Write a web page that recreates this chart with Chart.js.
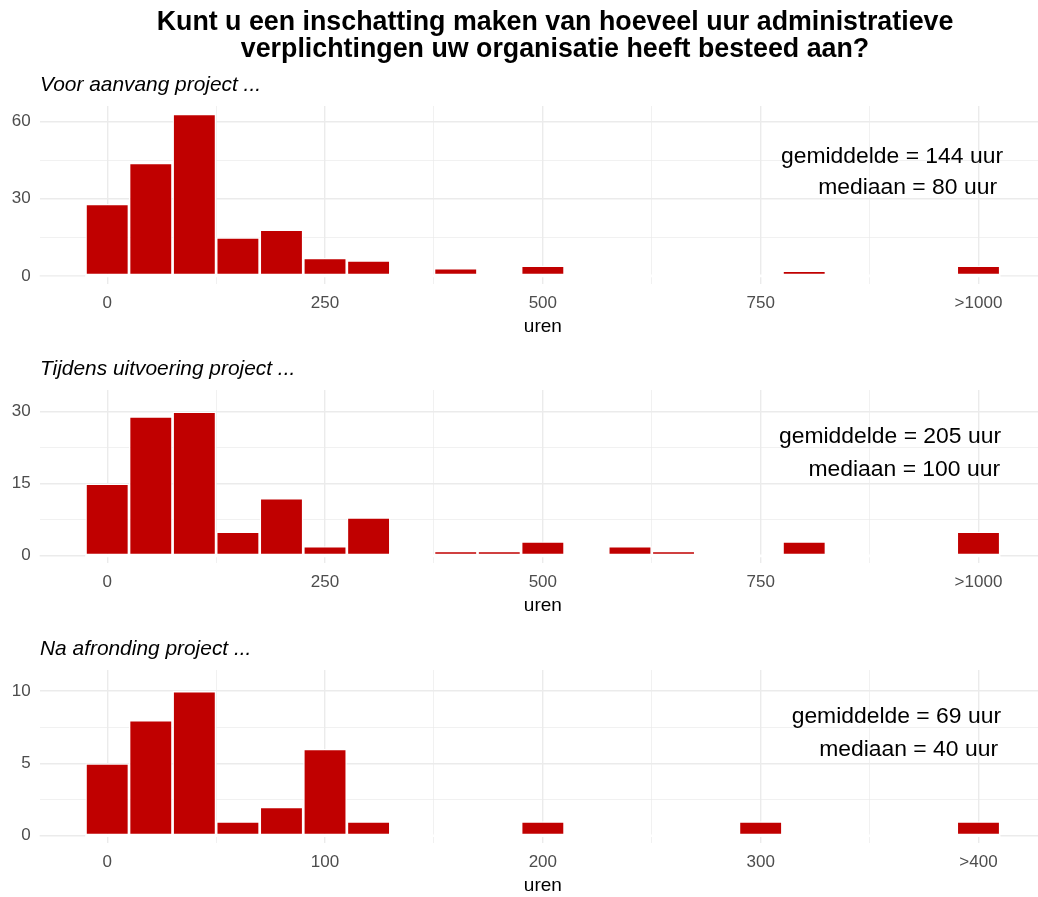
<!DOCTYPE html>
<html>
<head>
<meta charset="utf-8">
<title>Administratieve verplichtingen</title>
<script src="https://cdn.jsdelivr.net/npm/chart.js@4"></script>
<style>
  html, body { margin: 0; padding: 0; background: #fff; overflow: hidden; }
  body { width: 1038px; height: 897px; position: relative; }
  canvas { position: absolute; left: 0; }
</style>
</head>
<body>
<canvas id="chart-voor" width="1047" height="350" style="top:0px"></canvas>
<canvas id="chart-tijdens" width="1047" height="279" style="top:350px"></canvas>
<canvas id="chart-na" width="1047" height="280" style="top:629px"></canvas>
<script>
// bin-middens (uren) en aantallen per bin
const urenLang = [0, 50, 100, 150, 200, 250, 300, 350, 400, 450, 500, 550, 600, 650, 700, 750, 800, 850, 900, 950, 1000];
const urenKort = [0, 20, 40, 60, 80, 100, 120, 140, 160, 180, 200, 220, 240, 260, 280, 300, 320, 340, 360, 380, 400];

const voorAanvang       = [28, 44, 63, 15, 18, 7, 6, 0, 3, 0, 4, 0, 0, 0, 0, 0, 2, 0, 0, 0, 4];
const tijdensUitvoering = [15, 29, 30, 5, 12, 2, 8, 0, 1, 1, 3, 0, 2, 1, 0, 0, 3, 0, 0, 0, 5];
const naAfronding       = [5, 8, 10, 1, 2, 6, 1, 0, 0, 0, 1, 0, 0, 0, 0, 1, 0, 0, 0, 0, 1];

// as-labels
const xTicksLang = [0, 250, 500, 750, 1000];
const xLabelsLang = ["0", "250", "500", "750", ">1000"];
const xTicksKort = [0, 100, 200, 300, 400];
const xLabelsKort = ["0", "100", "200", "300", ">400"];
const yTicksVoor = [0, 30, 60];
const yTicksTijdens = [0, 15, 30];
const yTicksNa = [0, 5, 10];

const gemiddelde = [144, 205, 69];
const mediaan = [80, 100, 40];

const FONT = "'Liberation Sans', Arial, sans-serif";
const GRID = "#EBEBEB";

function withMinor(major) {
  const all = [];
  major.forEach((v, i) => {
    all.push(v);
    if (i < major.length - 1) all.push((v + major[i + 1]) / 2);
  });
  return all;
}

const histDecor = {
  id: "histDecor",
  beforeDatasetsDraw(chart, args, o) {
    const { ctx, chartArea: a, scales: { x, y } } = chart;
    const half = (o.bins[1] - o.bins[0]) / 2;
    const x0 = x.getPixelForValue(o.bins[0] - half);
    const x1 = x.getPixelForValue(o.bins[o.bins.length - 1] + half);
    const y0 = y.getPixelForValue(0);
    ctx.save();
    // nul-lijn alleen buiten de bins (lege bins zijn wit)
    ctx.strokeStyle = GRID;
    ctx.lineWidth = 1.4;
    ctx.beginPath();
    ctx.moveTo(a.left, y0); ctx.lineTo(x0, y0);
    ctx.moveTo(x1, y0); ctx.lineTo(a.right, y0);
    ctx.stroke();
    ctx.strokeStyle = "#FFFFFF";
    ctx.lineWidth = 2.7;
    ctx.beginPath();
    ctx.moveTo(x0, y0); ctx.lineTo(x1, y0);
    ctx.stroke();
    ctx.restore();
  },
  afterDraw(chart, args, o) {
    const { ctx, chartArea: a } = chart;
    ctx.save();
    ctx.fillStyle = "#000";
    if (o.title) {
      ctx.font = "bold 26.8px " + FONT;
      ctx.textAlign = "center";
      o.title.forEach((line, i) => ctx.fillText(line, 555, 29.5 + i * 27));
    }
    ctx.textAlign = "left";
    ctx.font = "italic 20.9px " + FONT;
    ctx.fillText(o.subtitle, a.left + 0.3, a.top - 15);
    ctx.textAlign = "right";
    ctx.font = "22.9px " + FONT;
    o.notes.forEach((line, i) => ctx.fillText(line, a.right + o.noteDx[i], a.top + o.noteDy[i]));
    ctx.restore();
  }
};

function makeHistogram(id, cfg) {
  const xAll = withMinor(cfg.xTicks);
  const yAll = withMinor(cfg.yTicks);
  return new Chart(document.getElementById(id), {
    type: "bar",
    data: {
      datasets: [{
        data: cfg.bins.map((b, i) => ({ x: b, y: cfg.counts[i] })),
        backgroundColor: "#C00000",
        borderColor: "#FFFFFF",
        borderWidth: 1.35,
        borderSkipped: false,
        barPercentage: 1,
        categoryPercentage: 1,
        inflateAmount: 0
      }]
    },
    options: {
      responsive: false,
      animation: false,
      devicePixelRatio: 1,
      layout: { padding: { top: cfg.padTop, right: 1, bottom: 0, left: 0 } },
      scales: {
        x: {
          type: "linear",
          min: cfg.xMin,
          max: cfg.xMax,
          offset: false,
          afterBuildTicks: (axis) => { axis.ticks = xAll.map(v => ({ value: v })); },
          afterFit: (axis) => { axis.height = 66; },
          border: { display: false },
          grid: {
            offset: false,
            drawTicks: false,
            color: GRID,
            lineWidth: (c) => (cfg.xTicks.includes(c.tick.value) ? 1.4 : 0.7)
          },
          ticks: {
            autoSkip: false,
            maxRotation: 0,
            padding: 9.5,
            color: "#4D4D4D",
            font: { family: FONT, size: 17 },
            callback: (v) => {
              const i = cfg.xTicks.indexOf(v);
              return i >= 0 ? cfg.xLabels[i] : "";
            }
          },
          title: {
            display: true,
            text: "uren",
            color: "#000",
            font: { family: FONT, size: 19 },
            padding: { top: 0, bottom: 11.6 }
          }
        },
        y: {
          type: "linear",
          min: cfg.yMin,
          max: cfg.yMax,
          afterBuildTicks: (axis) => { axis.ticks = yAll.map(v => ({ value: v })); },
          afterFit: (axis) => { axis.width = 39.7; },
          border: { display: false },
          grid: {
            drawTicks: false,
            color: (c) => (c.tick.value === 0 ? "rgba(0,0,0,0)" : GRID),
            lineWidth: (c) => (cfg.yTicks.includes(c.tick.value) ? 1.4 : 0.7)
          },
          ticks: {
            padding: 9,
            color: "#4D4D4D",
            font: { family: FONT, size: 17 },
            callback: (v) => (cfg.yTicks.includes(v) ? String(v) : "")
          }
        }
      },
      plugins: {
        legend: { display: false },
        tooltip: { enabled: false },
        histDecor: {
          bins: cfg.bins,
          title: cfg.title,
          subtitle: cfg.subtitle,
          notes: cfg.notes,
          noteDx: cfg.noteDx,
          noteDy: cfg.noteDy
        }
      }
    },
    plugins: [histDecor]
  });
}

makeHistogram("chart-voor", {
  bins: urenLang, counts: voorAanvang,
  xTicks: xTicksLang, xLabels: xLabelsLang, yTicks: yTicksVoor,
  xMin: -77.5, xMax: 1077.5, yMin: -3.15, yMax: 66.1,
  padTop: 106,
  title: ["Kunt u een inschatting maken van hoeveel uur administratieve",
          "verplichtingen uw organisatie heeft besteed aan?"],
  subtitle: "Voor aanvang project ...",
  notes: ["gemiddelde = " + gemiddelde[0] + " uur", "mediaan = " + mediaan[0] + " uur"],
  noteDx: [-43, -49], noteDy: [56.7, 88]
});

makeHistogram("chart-tijdens", {
  bins: urenLang, counts: tijdensUitvoering,
  xTicks: xTicksLang, xLabels: xLabelsLang, yTicks: yTicksTijdens,
  xMin: -77.5, xMax: 1077.5, yMin: -1.5, yMax: 34.5,
  padTop: 40,
  subtitle: "Tijdens uitvoering project ...",
  notes: ["gemiddelde = " + gemiddelde[1] + " uur", "mediaan = " + mediaan[1] + " uur"],
  noteDx: [-45, -46], noteDy: [52.7, 85.7]
});

makeHistogram("chart-na", {
  bins: urenKort, counts: naAfronding,
  xTicks: xTicksKort, xLabels: xLabelsKort, yTicks: yTicksNa,
  xMin: -31, xMax: 431, yMin: -0.5, yMax: 11.46,
  padTop: 41,
  subtitle: "Na afronding project ...",
  notes: ["gemiddelde = " + gemiddelde[2] + " uur", "mediaan = " + mediaan[2] + " uur"],
  noteDx: [-45, -48], noteDy: [52.7, 85.7]
});
</script>
</body>
</html>
